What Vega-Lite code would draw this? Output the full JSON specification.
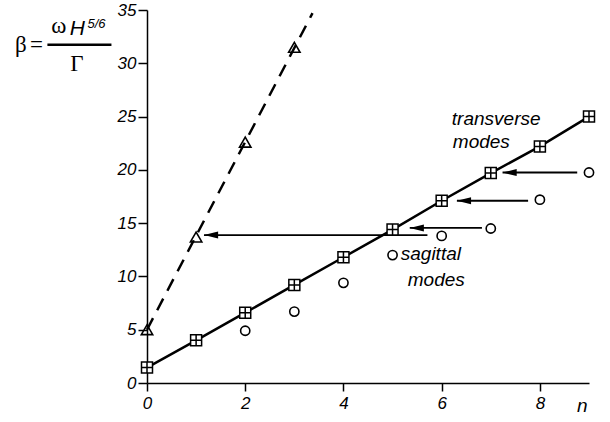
{
  "$schema": "https://vega.github.io/schema/vega-lite/v6.json",
  "width": 442,
  "height": 373,
  "autosize": {"type": "none"},
  "padding": {"left": 147, "top": 10, "right": 21, "bottom": 39},
  "background": "white",
  "config": {
    "view": {"stroke": null},
    "axis": {
      "grid": false,
      "title": null,
      "domainColor": "black",
      "domainWidth": 1.5,
      "tickColor": "black",
      "tickWidth": 1.5,
      "labelColor": "black",
      "labelFlush": false,
      "labelOverlap": false
    }
  },
  "datasets": {
    "transverse": [
      {"n": 0, "beta": 1.45}, {"n": 1, "beta": 4.0}, {"n": 2, "beta": 6.6}, {"n": 3, "beta": 9.2},
      {"n": 4, "beta": 11.8}, {"n": 5, "beta": 14.4}, {"n": 6, "beta": 17.1}, {"n": 7, "beta": 19.7},
      {"n": 8, "beta": 22.2}, {"n": 9, "beta": 25.0}
    ],
    "sagittal": [
      {"n": 2, "beta": 4.9}, {"n": 3, "beta": 6.7}, {"n": 4, "beta": 9.4}, {"n": 5, "beta": 12.0},
      {"n": 6, "beta": 13.8}, {"n": 7, "beta": 14.5}, {"n": 8, "beta": 17.2}, {"n": 9, "beta": 19.75}
    ],
    "triangles": [
      {"n": 0, "beta": 5.0}, {"n": 1, "beta": 13.7}, {"n": 2, "beta": 22.6}, {"n": 3, "beta": 31.5}
    ],
    "dashed": [
      {"n": 0, "beta": 5.0}, {"n": 3.37, "beta": 34.7}
    ],
    "arrows": [
      {"from": 8.76, "to": 7.24, "beta": 19.75},
      {"from": 7.76, "to": 6.31, "beta": 17.1},
      {"from": 6.82, "to": 5.35, "beta": 14.55},
      {"from": 5.71, "to": 1.16, "beta": 13.88}
    ],
    "notes": [
      {"n": 6.207, "beta": 24.75, "label": "transverse"},
      {"n": 6.227, "beta": 22.59, "label": "modes"},
      {"n": 5.167, "beta": 12.1, "label": "sagittal"},
      {"n": 5.31, "beta": 9.7, "label": "modes"},
      {"n": 8.754, "beta": -2.16, "label": "n"}
    ],
    "serif": [
      {"n": -2.568, "beta": 31.7, "label": "β"},
      {"n": -2.25, "beta": 31.7, "label": "="},
      {"n": -1.794, "beta": 33.46, "label": "ω"},
      {"n": -1.427, "beta": 29.96, "label": "Γ"}
    ],
    "ylabH": [{"n": -1.417, "beta": 33.25, "label": "H"}],
    "ylabSup": [{"n": -1.029, "beta": 33.71, "label": "5/6"}],
    "bar": [{"from": -2.028, "to": -0.724, "beta": 31.75}]
  },
  "encoding": {
    "x": {
      "field": "n", "type": "quantitative",
      "scale": {"domain": [0, 9], "nice": false, "zero": false},
      "axis": {"values": [0, 2, 4, 6, 8], "tickSize": 8, "labelPadding": 4,
               "labelFont": "Liberation Sans", "labelFontStyle": "italic", "labelFontSize": 17}
    },
    "y": {
      "field": "beta", "type": "quantitative",
      "scale": {"domain": [0, 35], "nice": false, "zero": false},
      "axis": {"values": [0, 5, 10, 15, 20, 25, 30, 35], "tickSize": 9, "labelPadding": 2,
               "labelFont": "Liberation Sans", "labelFontStyle": "italic", "labelFontSize": 17}
    }
  },
  "layer": [
    {
      "data": {"name": "dashed"},
      "mark": {"type": "line", "color": "black", "strokeWidth": 2.5, "strokeDash": [13, 9]}
    },
    {
      "data": {"name": "transverse"},
      "mark": {"type": "line", "color": "black", "strokeWidth": 2.5}
    },
    {
      "data": {"name": "arrows"},
      "mark": {"type": "rule", "color": "black", "strokeWidth": 1.8},
      "encoding": {
        "x": {"field": "from", "type": "quantitative"},
        "x2": {"field": "to"}
      }
    },
    {
      "data": {"name": "arrows"},
      "mark": {"type": "point", "shape": "M0,0L2,-0.5L2,0.5Z", "filled": true, "color": "black", "size": 200, "opacity": 1},
      "encoding": {
        "x": {"field": "to", "type": "quantitative"}
      }
    },
    {
      "data": {"name": "bar"},
      "mark": {"type": "rule", "color": "black", "strokeWidth": 2.5},
      "encoding": {
        "x": {"field": "from", "type": "quantitative"},
        "x2": {"field": "to"}
      }
    },
    {
      "data": {"name": "triangles"},
      "mark": {"type": "point", "shape": "triangle-up", "filled": false, "stroke": "black", "strokeWidth": 1.6, "size": 130, "opacity": 1}
    },
    {
      "data": {"name": "sagittal"},
      "mark": {"type": "point", "shape": "circle", "filled": true, "fill": "white", "stroke": "black", "strokeWidth": 1.6, "size": 85, "opacity": 1}
    },
    {
      "data": {"name": "transverse"},
      "mark": {"type": "point", "shape": "M-1,-1H1V1H-1Z M0,-1V1 M-1,0H1", "filled": true, "fill": "white", "stroke": "black", "strokeWidth": 1.5, "size": 121, "opacity": 1}
    },
    {
      "data": {"name": "notes"},
      "mark": {"type": "text", "font": "Liberation Sans", "fontStyle": "italic", "fontSize": 19, "align": "left", "baseline": "middle", "color": "black"},
      "encoding": {"text": {"field": "label"}}
    },
    {
      "data": {"name": "serif"},
      "mark": {"type": "text", "font": "Liberation Serif", "fontSize": 23, "align": "center", "baseline": "middle", "color": "black"},
      "encoding": {"text": {"field": "label"}}
    },
    {
      "data": {"name": "ylabH"},
      "mark": {"type": "text", "font": "Liberation Sans", "fontStyle": "italic", "fontSize": 21, "align": "center", "baseline": "middle", "color": "black"},
      "encoding": {"text": {"field": "label"}}
    },
    {
      "data": {"name": "ylabSup"},
      "mark": {"type": "text", "font": "Liberation Sans", "fontStyle": "italic", "fontSize": 13, "align": "center", "baseline": "middle", "color": "black"},
      "encoding": {"text": {"field": "label"}}
    }
  ]
}
